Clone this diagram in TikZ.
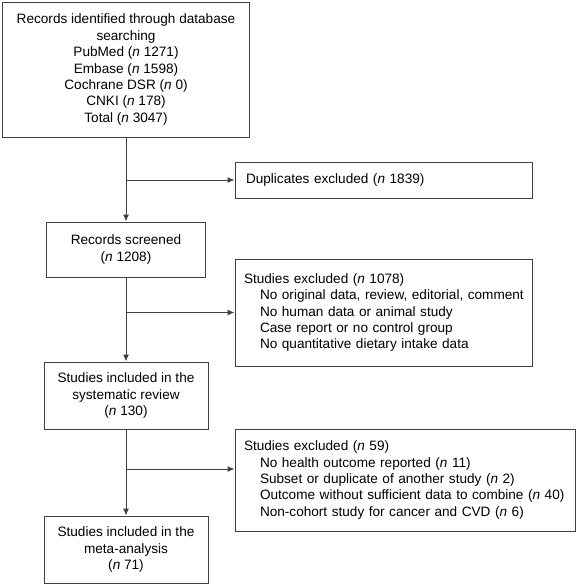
\documentclass[tikz,border=0pt]{standalone}
\usepackage{fontspec}
\setmainfont{Liberation Sans}
\usetikzlibrary{arrows.meta}

\begin{document}
\begin{tikzpicture}[x=1pt, y=-1pt, line width=1pt, >={Latex[length=7pt,width=6pt]},
	box/.style={draw=black!75, line width=1pt, align=center, inner sep=0pt, font=\fontsize{13.6}{16.4}\selectfont},
	exbox/.style={box, align=left, inner xsep=9pt}]
	\useasboundingbox (0,0) rectangle (576,584);
	\node[box, minimum width=247pt, minimum height=135pt] (ident) at (126,69.5) {Records identified through database\\searching\\PubMed (\textit{n} 1271)\\Embase (\textit{n} 1598)\\Cochrane DSR (\textit{n} 0)\\CNKI (\textit{n} 178)\\Total (\textit{n} 3047)};
	\node[box, minimum width=159pt, minimum height=55pt] (screen) at (126,249.5) {Records screened\\(\textit{n} 1208)};
	\node[box, minimum width=164pt, minimum height=67pt] (sysrev) at (126,395.5) {Studies included in the\\systematic review\\(\textit{n} 130)};
	\node[box, minimum width=164pt, minimum height=67pt] (meta) at (126,549.5) {Studies included in the\\meta-analysis\\(\textit{n} 71)};
	\node[exbox, text width=279pt, minimum height=36pt] (dupl) at (383.5,180) {\hspace*{2pt}Duplicates excluded (\textit{n} 1839)};
	\node[exbox, text width=279pt, minimum height=107pt] (excl1) at (383.5,312.5) {Studies excluded (\textit{n} 1078)\\
		\hspace*{16pt}\mbox{No original data, review, editorial, comment}\\
		\hspace*{16pt}No human data or animal study\\
		\hspace*{16pt}Case report or no control group\\
		\hspace*{16pt}No quantitative dietary intake data};
	\node[exbox, text width=322pt, minimum height=102pt] (excl2) at (405,480) {Studies excluded (\textit{n} 59)\\
		\hspace*{16pt}No health outcome reported (\textit{n} 11)\\
		\hspace*{16pt}Subset or duplicate of another study (\textit{n} 2)\\
		\hspace*{16pt}\mbox{Outcome without sufficient data to combine (\textit{n} 40)}\\
		\hspace*{16pt}Non-cohort study for cancer and CVD (\textit{n} 6)};
	\coordinate (j1) at (ident.south |- dupl.west);
	\coordinate (j2) at (screen.south |- excl1.west);
	\coordinate (j3) at (126,469);
	\draw[->, draw=black!75] (ident) -- (screen);
	\draw[->, draw=black!75] (screen) -- (sysrev);
	\draw[->, draw=black!75] (sysrev) -- (meta);
	\draw[->, draw=black!75] (j1) -- (dupl);
	\draw[->, draw=black!75] (j2) -- (excl1);
	\draw[->, draw=black!75] (j3) -- (j3 -| excl2.west);
\end{tikzpicture}
\end{document}
